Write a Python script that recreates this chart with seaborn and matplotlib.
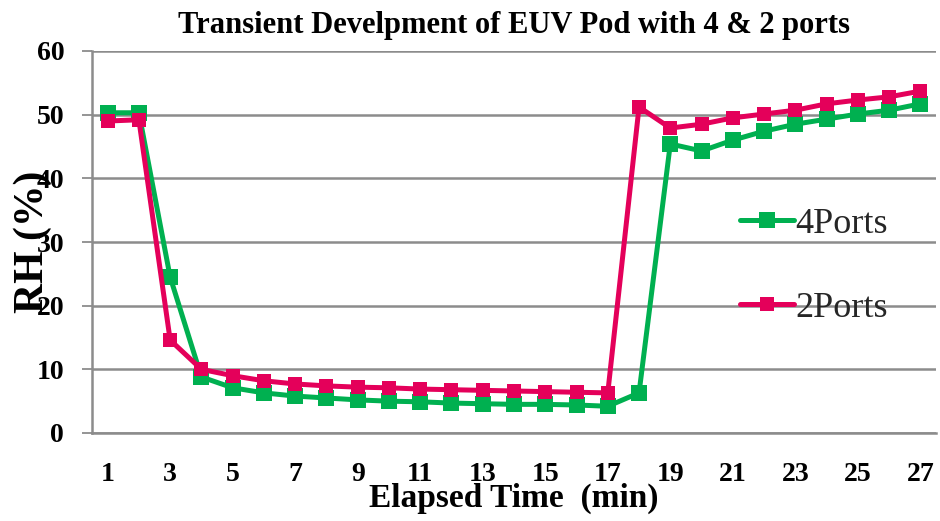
import numpy as np
import pandas as pd
import seaborn as sns
import matplotlib
matplotlib.use("Agg")
import matplotlib.pyplot as plt
from matplotlib.lines import Line2D

time_min = list(range(1, 28))
ports4 = [50.3, 50.3, 24.5, 8.8, 7.1, 6.3, 5.8, 5.5, 5.2, 5.0, 4.9, 4.7, 4.6, 4.5,
          4.5, 4.4, 4.2, 6.3, 45.4, 44.3, 46.0, 47.4, 48.5, 49.3, 50.1, 50.7, 51.7]
ports2 = [49.0, 49.2, 14.6, 10.0, 9.0, 8.2, 7.7, 7.4, 7.2, 7.1, 6.9, 6.8, 6.7, 6.6,
          6.5, 6.4, 6.3, 51.2, 47.9, 48.5, 49.5, 50.1, 50.7, 51.7, 52.3, 52.8, 53.7]
series_names = ["4Ports", "2Ports"]
xtick_labels = [str(v) for v in range(1, 28, 2)]

df = pd.DataFrame({
    "t": time_min * 2,
    "rh": ports4 + ports2,
    "series": [series_names[0]] * len(time_min) + [series_names[1]] * len(time_min),
})

sns.set_theme(style="white")
plt.rcParams["font.family"] = ["Liberation Serif", "DejaVu Serif"]

fig = plt.figure(figsize=(9.4, 5.21), dpi=100)
ax = fig.add_axes([92 / 940, 1 - 433 / 521, (936 - 92) / 940, (433 - 51) / 521])

palette = {"4Ports": "#00B050", "2Ports": "#E4005A"}
sizes = [12, 10]
sns.lineplot(data=df, x="t", y="rh", hue="series", style="series",
             markers={"4Ports": "s", "2Ports": "s"}, dashes=False,
             palette=palette, linewidth=3.6, ax=ax, legend=False)
for line, ms in zip(ax.get_lines(), sizes):
    line.set_markersize(ms)
    line.set_markeredgewidth(0)

ax.set_xlim(0.5, 27.5)
ax.set_ylim(0, 60)
ax.set_yticks(range(0, 61, 10))
ax.set_xticks(range(1, 28, 2))
ax.set_xticklabels(xtick_labels)
ax.yaxis.grid(True, color="#8c8c8c", linewidth=1.8)
ax.xaxis.grid(False)
for s in ["top", "right"]:
    ax.spines[s].set_visible(False)
for s in ["left", "bottom"]:
    ax.spines[s].set_color("#8c8c8c")
    ax.spines[s].set_linewidth(1.8)
ax.tick_params(axis="y", left=True, length=7, width=1.3, color="#8c8c8c", pad=13)
ax.tick_params(axis="x", bottom=False, pad=15)
for lab in ax.get_xticklabels() + ax.get_yticklabels():
    lab.set_fontsize(20)
    lab.set_fontweight("bold")
    lab.set_color("black")

ax.set_xlabel("Elapsed Time  (min)", fontsize=24, fontweight="bold", labelpad=-3, color="black")
ax.set_ylabel("RH (%)", fontsize=30, fontweight="bold", color="black", va="center")
ax.yaxis.set_label_coords(-0.07, 0.5)
ax.set_title("Transient Develpment of EUV Pod with 4 & 2 ports", fontsize=22,
             fontweight="bold", pad=13, color="black")

handles = [Line2D([], [], color=palette[n], marker="s", markersize=ms, markeredgewidth=0,
                  linewidth=3.6, solid_capstyle="round") for n, ms in zip(series_names, sizes)]
ax.legend(handles, series_names, loc="center left", bbox_to_anchor=(0.729, 0.437),
          frameon=False, fontsize=26, labelspacing=1.4, handlelength=1.5,
          handletextpad=0.05)

fig.savefig("out.png", dpi=100)
